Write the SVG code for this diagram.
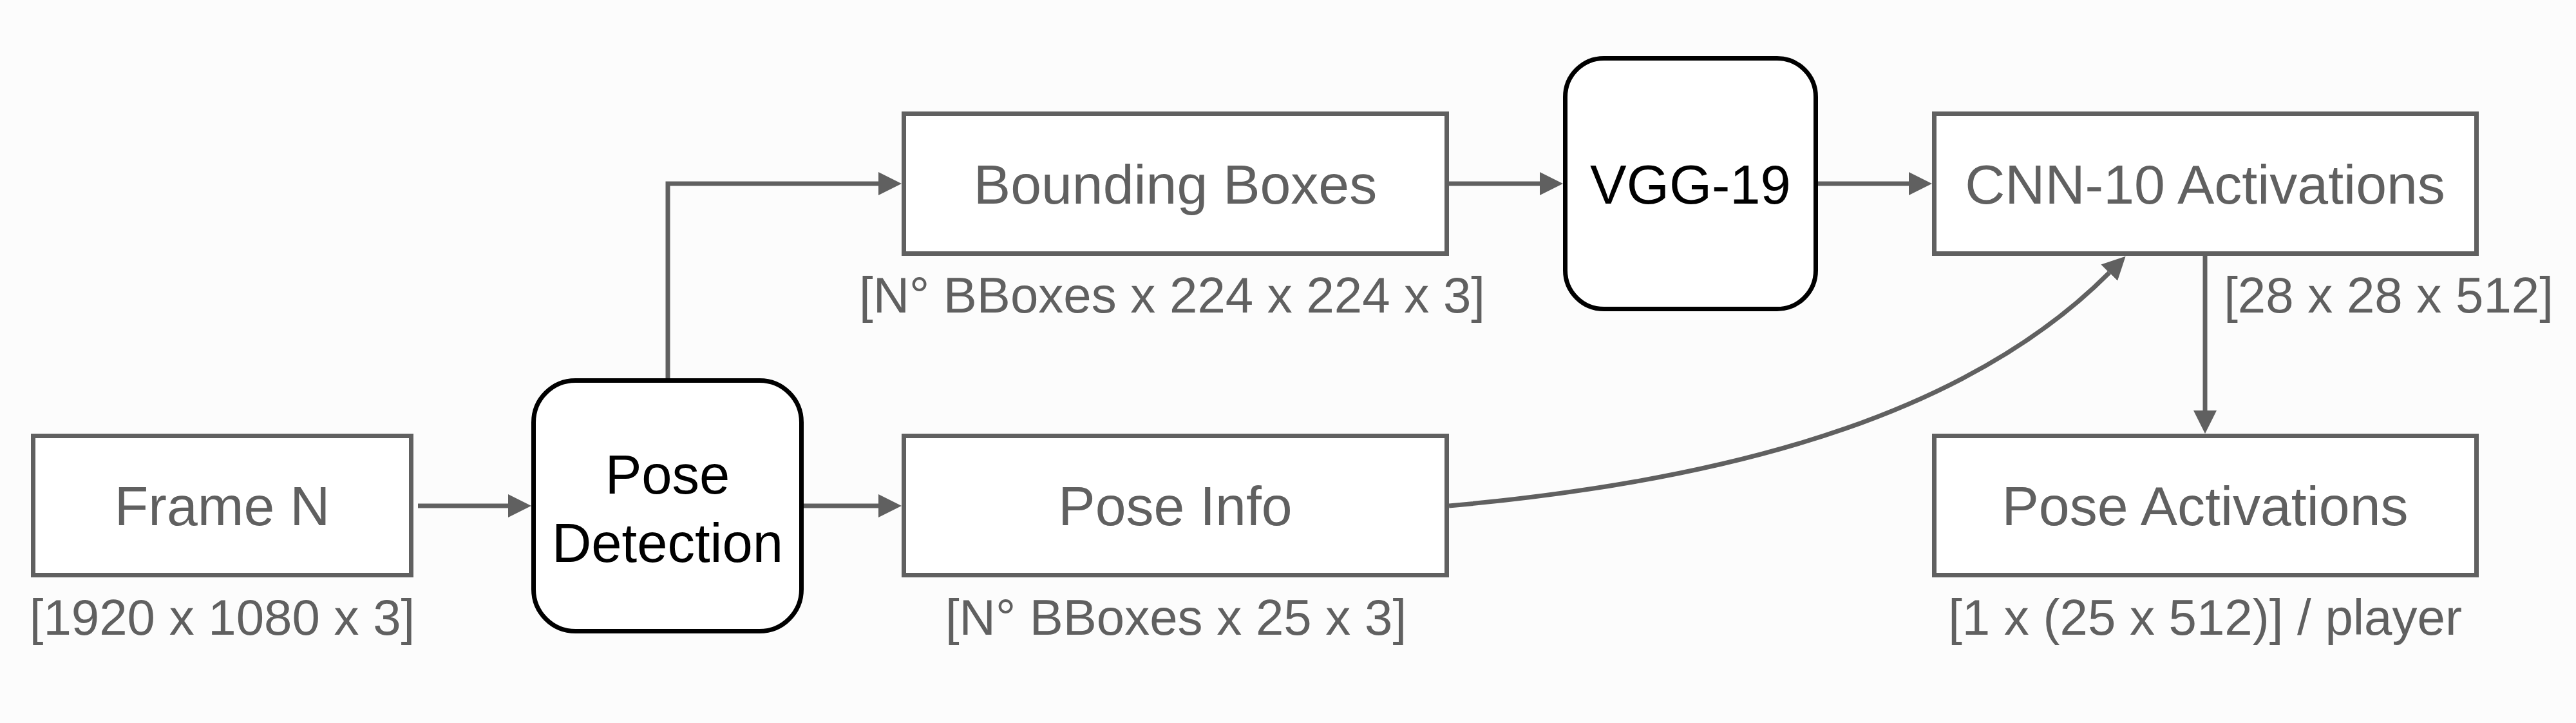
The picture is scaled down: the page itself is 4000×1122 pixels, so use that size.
<svg xmlns="http://www.w3.org/2000/svg" width="4000" height="1122" viewBox="0 0 4000 1122">
<style>
.bg{fill:#fcfcfc}
.box{fill:#ffffff;stroke:#606060;stroke-width:7}
.proc{fill:#ffffff;stroke:#000000;stroke-width:7}
.lbl{font-family:"Liberation Sans",Arial,Helvetica,sans-serif;font-size:86px;fill:#606060;text-anchor:middle}
.plbl{font-family:"Liberation Sans",Arial,Helvetica,sans-serif;font-size:85px;fill:#000000;text-anchor:middle}
.cap{font-family:"Liberation Sans",Arial,Helvetica,sans-serif;font-size:78px;fill:#606060;text-anchor:middle}
.edge{fill:none;stroke:#606060;stroke-width:7}
</style>
<defs>
<marker id="arr" markerUnits="userSpaceOnUse" markerWidth="40" markerHeight="40" refX="0" refY="18" orient="auto">
<path d="M0,0 L36,18 L0,36 Z" fill="#606060"/>
</marker>
</defs>
<rect class="bg" x="0" y="0" width="4000" height="1122"/>

<g id="connectors">
<path class="edge" d="M649,785 H789" marker-end="url(#arr)"/>
<path class="edge" d="M1248,785 H1364" marker-end="url(#arr)"/>
<path class="edge" d="M1037,587 V285 H1364" marker-end="url(#arr)"/>
<path class="edge" d="M2250,285 H2391" marker-end="url(#arr)"/>
<path class="edge" d="M2823,285 H2964" marker-end="url(#arr)"/>
<path class="edge" d="M3424,397 V637" marker-end="url(#arr)"/>
<path class="edge" d="M2250,785 C2730,741.8 3070.8,628.5 3275.2,423.2" marker-end="url(#arr)"/>
</g>

<g id="frame-n">
<rect class="box" x="51.5" y="676.5" width="587" height="216"/>
<text class="lbl" x="345" y="815">Frame N</text>
<text class="cap" x="345" y="985">[1920 x 1080 x 3]</text>
</g>

<g id="pose-detection">
<rect class="proc" x="828.5" y="590.5" width="416" height="389" rx="65" ry="65"/>
<text class="plbl" x="1036.5" y="766">Pose</text>
<text class="plbl" x="1036.5" y="872">Detection</text>
</g>

<g id="bounding-boxes">
<rect class="box" x="1403.5" y="176.5" width="843" height="217"/>
<text class="lbl" x="1825" y="316">Bounding Boxes</text>
<text class="cap" x="1820" y="485">[N° BBoxes x 224 x 224 x 3]</text>
</g>

<g id="pose-info">
<rect class="box" x="1403.5" y="676.5" width="843" height="216"/>
<text class="lbl" x="1825" y="815">Pose Info</text>
<text class="cap" x="1826" y="985">[N° BBoxes x 25 x 3]</text>
</g>

<g id="vgg-19">
<rect class="proc" x="2430.5" y="90.5" width="389" height="389" rx="60" ry="60"/>
<text class="plbl" x="2625" y="316">VGG-19</text>
</g>

<g id="cnn-activations">
<rect class="box" x="3003.5" y="176.5" width="842" height="217"/>
<text class="lbl" x="3424" y="316">CNN-10 Activations</text>
<text class="cap" x="3709" y="485">[28 x 28 x 512]</text>
</g>

<g id="pose-activations">
<rect class="box" x="3003.5" y="676.5" width="842" height="216"/>
<text class="lbl" x="3424" y="815">Pose Activations</text>
<text class="cap" x="3424" y="985">[1 x (25 x 512)] / player</text>
</g>
</svg>
